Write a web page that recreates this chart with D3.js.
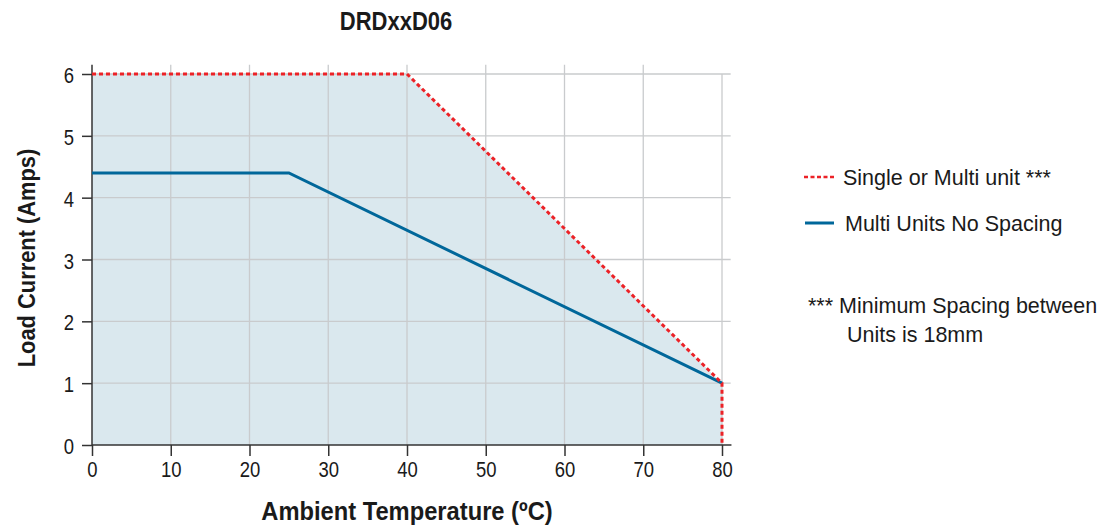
<html lang="en">
<head>
<meta charset="utf-8">
<title>DRDxxD06</title>
<script src="https://cdn.jsdelivr.net/npm/d3@7"></script>
<style>
  body { margin: 0; background: #fff; }
  text { font-family: "Liberation Sans", Arial, sans-serif; fill: #1a1a1a; }
</style>
</head>
<body>
<script>
// derating curves
var singleX = [0, 40, 80, 80]
var singleY = [6, 6, 1, 0]
var multiX = [0, 25, 80]
var multiY = [4.4, 4.4, 1]
var xTicks = [0, 10, 20, 30, 40, 50, 60, 70, 80]
var yTicks = [0, 1, 2, 3, 4, 5, 6]
var legendLabels = ["Single or Multi unit ***", "Multi Units No Spacing"]
var noteLines = ["*** Minimum Spacing between", "Units is 18mm"]

var w = 1111, h = 527
var mLeft = 92, mRight = 722, mTop = 74, mBottom = 445

var x = d3.scaleLinear().domain([0, 80]).range([mLeft, mRight])
var y = d3.scaleLinear().domain([0, 6]).range([mBottom, mTop])

var svg = d3.select("body").append("svg")
  .attr("width", w).attr("height", h)

var single = singleX.map(function(d, i) { return [d, singleY[i]] })
var multi = multiX.map(function(d, i) { return [d, multiY[i]] })

var line = d3.line().x(function(d) { return x(d[0]) }).y(function(d) { return y(d[1]) })

// shaded region under the single unit curve
svg.append("path")
  .datum(single.concat([[0, 0]]))
  .attr("d", line)
  .attr("fill", "#dae8ee")

// grid
svg.selectAll(".hg").data(yTicks.slice(1)).enter().append("line")
  .attr("x1", x(0)).attr("x2", x(81.1))
  .attr("y1", function(d) { return y(d) }).attr("y2", function(d) { return y(d) })
  .attr("stroke", "#c9cbcd").attr("stroke-width", 1.3)
svg.selectAll(".vg").data(xTicks.slice(1)).enter().append("line")
  .attr("x1", function(d) { return x(d) }).attr("x2", function(d) { return x(d) })
  .attr("y1", function(d) { return d == 80 ? y(6) : y(6.15) }).attr("y2", y(0))
  .attr("stroke", "#c9cbcd").attr("stroke-width", 1.3)

// axes (condensed look via horizontal squeeze)
var xAxis = svg.append("g").attr("transform", "translate(0," + mBottom + ")")
  .call(d3.axisBottom(x).tickValues(xTicks).tickFormat(d3.format("d")).tickSize(11).tickPadding(6).tickSizeOuter(0))
xAxis.select(".domain").attr("d", "M" + x(0) + ",0H" + x(81.2)).attr("stroke", "#333").attr("stroke-width", 1.5)
xAxis.selectAll(".tick line").attr("stroke", "#333").attr("stroke-width", 1.5)
xAxis.selectAll("text").attr("font-size", "21.5px").attr("fill", "#1a1a1a").attr("transform", "scale(0.86,1)")

var yAxis = svg.append("g").attr("transform", "translate(" + mLeft + ",0)")
  .call(d3.axisLeft(y).tickValues(yTicks).tickFormat(d3.format("d")).tickSize(10).tickPadding(11).tickSizeOuter(0))
yAxis.select(".domain").attr("d", "M0," + y(6.15) + "V" + y(0)).attr("stroke", "#333").attr("stroke-width", 1.5)
yAxis.selectAll(".tick line").attr("stroke", "#333").attr("stroke-width", 1.5)
yAxis.selectAll("text").attr("font-size", "21.5px").attr("fill", "#1a1a1a").attr("dy", "0.4em")
  .attr("transform", "scale(0.86,1)")
svg.selectAll("g").attr("font-family", null)

// curves
svg.append("path").datum(multi).attr("d", line)
  .attr("fill", "none").attr("stroke", "#00679a").attr("stroke-width", 3)
svg.append("path").datum(single).attr("d", line)
  .attr("fill", "none").attr("stroke", "#ec2227").attr("stroke-width", 3)
  .attr("stroke-dasharray", "4,3")

// titles
svg.append("text").attr("transform", "translate(396,30) scale(0.88,1)").attr("text-anchor", "middle")
  .attr("font-size", "25px").attr("font-weight", "bold").text("DRDxxD06")
svg.append("text").attr("transform", "translate(407,520) scale(0.93,1)").attr("text-anchor", "middle")
  .attr("font-size", "25.5px").attr("font-weight", "bold").text("Ambient Temperature (ºC)")
svg.append("text").attr("transform", "translate(35,258) rotate(-90) scale(0.93,1)").attr("text-anchor", "middle")
  .attr("font-size", "23.5px").attr("font-weight", "bold").text("Load Current (Amps)")

// legend
var leg = svg.selectAll(".leg").data(legendLabels).enter().append("g")
  .attr("transform", function(d, i) { return "translate(804," + (177 + i * 46) + ")" })
leg.append("line").attr("x1", function(d, i) { return i == 0 ? 0 : 1 }).attr("x2", 30)
  .attr("stroke", function(d, i) { return i == 0 ? "#ec2227" : "#00679a" })
  .attr("stroke-width", function(d, i) { return i == 0 ? 2.5 : 3 })
  .attr("stroke-dasharray", function(d, i) { return i == 0 ? "4,2.5" : null })
leg.append("text").attr("x", function(d, i) { return i == 0 ? 39 : 41 }).attr("y", 7.5)
  .attr("font-size", "21.5px").text(function(d) { return d })

svg.selectAll(".note").data(noteLines).enter().append("text")
  .attr("x", function(d, i) { return i == 0 ? 808 : 847 })
  .attr("y", function(d, i) { return 313 + i * 29 })
  .attr("font-size", "21.5px").text(function(d) { return d })
</script>
</body>
</html>
